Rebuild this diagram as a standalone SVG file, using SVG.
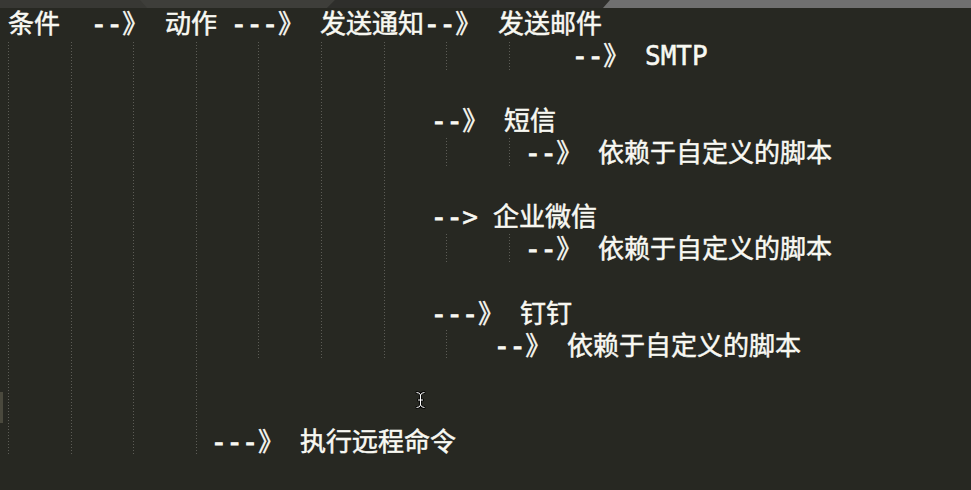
<svg xmlns="http://www.w3.org/2000/svg" width="971" height="490" viewBox="0 0 971 490">
<style>
.t{font-family:"DejaVu Sans Mono","Noto Sans CJK SC",monospace;font-size:26px;fill:#f8f8f2;stroke:#f8f8f2;stroke-width:0.5}
.c{font-family:"Noto Sans CJK SC","DejaVu Sans",sans-serif;font-size:26px;fill:#f8f8f2;stroke:#f8f8f2;stroke-width:0.5}
.d{font-family:"DejaVu Sans Mono",monospace;font-size:26px;fill:#f8f8f2;stroke:#f8f8f2;stroke-width:1.2}
.g{stroke:#5c5c56;stroke-width:1;stroke-dasharray:1 2;fill:none}
</style>
<rect x="0" y="0" width="971" height="490" fill="#272822"/>
<g id="tabbar">
<rect x="0" y="0" width="971" height="8" fill="#383834"/>
<path d="M140 0 H335 L327 8 H147 Z" fill="#3e3e3a"/>
<path d="M327 8 L335 0 H610 L603 8 Z" fill="#2e2e2b"/>
<path d="M603 8 L610 0 H971 V8 Z" fill="#707070"/>
</g>
<rect x="0" y="392" width="3" height="31" fill="#4a493d"/>
<g id="guides" class="g">
<line x1="8.5" y1="42" x2="8.5" y2="456"/>
<line x1="71.5" y1="42" x2="71.5" y2="456"/>
<line x1="133.5" y1="42" x2="133.5" y2="456"/>
<line x1="196.5" y1="42" x2="196.5" y2="456"/>
<line x1="258.5" y1="42" x2="258.5" y2="359"/>
<line x1="321.5" y1="42" x2="321.5" y2="359"/>
<line x1="384.5" y1="42" x2="384.5" y2="359"/>
<line x1="446.5" y1="42" x2="446.5" y2="71"/>
<line x1="509.5" y1="42" x2="509.5" y2="71"/>
<line x1="446.5" y1="138" x2="446.5" y2="167"/>
<line x1="509.5" y1="138" x2="509.5" y2="167"/>
<line x1="446.5" y1="234" x2="446.5" y2="263"/>
<line x1="509.5" y1="234" x2="509.5" y2="263"/>
<line x1="446.5" y1="330" x2="446.5" y2="359"/>
</g>
<g id="connectors" class="t">
<text x="91" y="33"><tspan class="d">--</tspan>》</text>
<text x="231" y="33"><tspan class="d">---</tspan>》</text>
<text x="424" y="33"><tspan class="d">--</tspan>》</text>
<text x="572" y="65"><tspan class="d">--</tspan>》</text>
<text x="431" y="129.5"><tspan class="d">--</tspan>》</text>
<text x="525" y="161.5"><tspan class="d">--</tspan>》</text>
<text x="431" y="226"><tspan class="d">--</tspan>&gt;</text>
<text x="525" y="258"><tspan class="d">--</tspan>》</text>
<text x="431" y="322.5"><tspan class="d">---</tspan>》</text>
<text x="494" y="354.5"><tspan class="d">--</tspan>》</text>
<text x="211" y="451"><tspan class="d">---</tspan>》</text>
</g>
<g id="n-condition"><text class="c" x="8" y="33">条件</text></g>
<g id="n-action"><text class="c" x="165" y="33">动作</text></g>
<g id="n-notify"><text class="c" x="320" y="33">发送通知</text></g>
<g id="n-mail"><text class="c" x="498" y="33">发送邮件</text></g>
<g id="n-smtp"><text class="t" x="645" y="65">SMTP</text></g>
<g id="n-sms"><text class="c" x="504" y="129.5">短信</text></g>
<g id="n-sms-script"><text class="c" x="598" y="161.5">依赖于自定义的脚本</text></g>
<g id="n-wecom"><text class="c" x="493" y="226">企业微信</text></g>
<g id="n-wecom-script"><text class="c" x="598" y="258">依赖于自定义的脚本</text></g>
<g id="n-dingtalk"><text class="c" x="520" y="322.5">钉钉</text></g>
<g id="n-dingtalk-script"><text class="c" x="567" y="354.5">依赖于自定义的脚本</text></g>
<g id="n-remote"><text class="c" x="300" y="451">执行远程命令</text></g>
<g id="cursor" fill="none" stroke-linecap="square">
<path d="M417 392.5 Q420 392.5 420.5 395 V405 Q420 407.5 417 407.5 M424 392.5 Q421 392.5 420.5 395 M424 407.5 Q421 407.5 420.5 405 M418.5 400 H422.5" stroke="#000" stroke-width="2.5"/>
<path d="M417 392.5 Q420 392.5 420.5 395 V405 Q420 407.5 417 407.5 M424 392.5 Q421 392.5 420.5 395 M424 407.5 Q421 407.5 420.5 405 M418.5 400 H422.5" stroke="#fff" stroke-width="1"/>
</g>
</svg>
